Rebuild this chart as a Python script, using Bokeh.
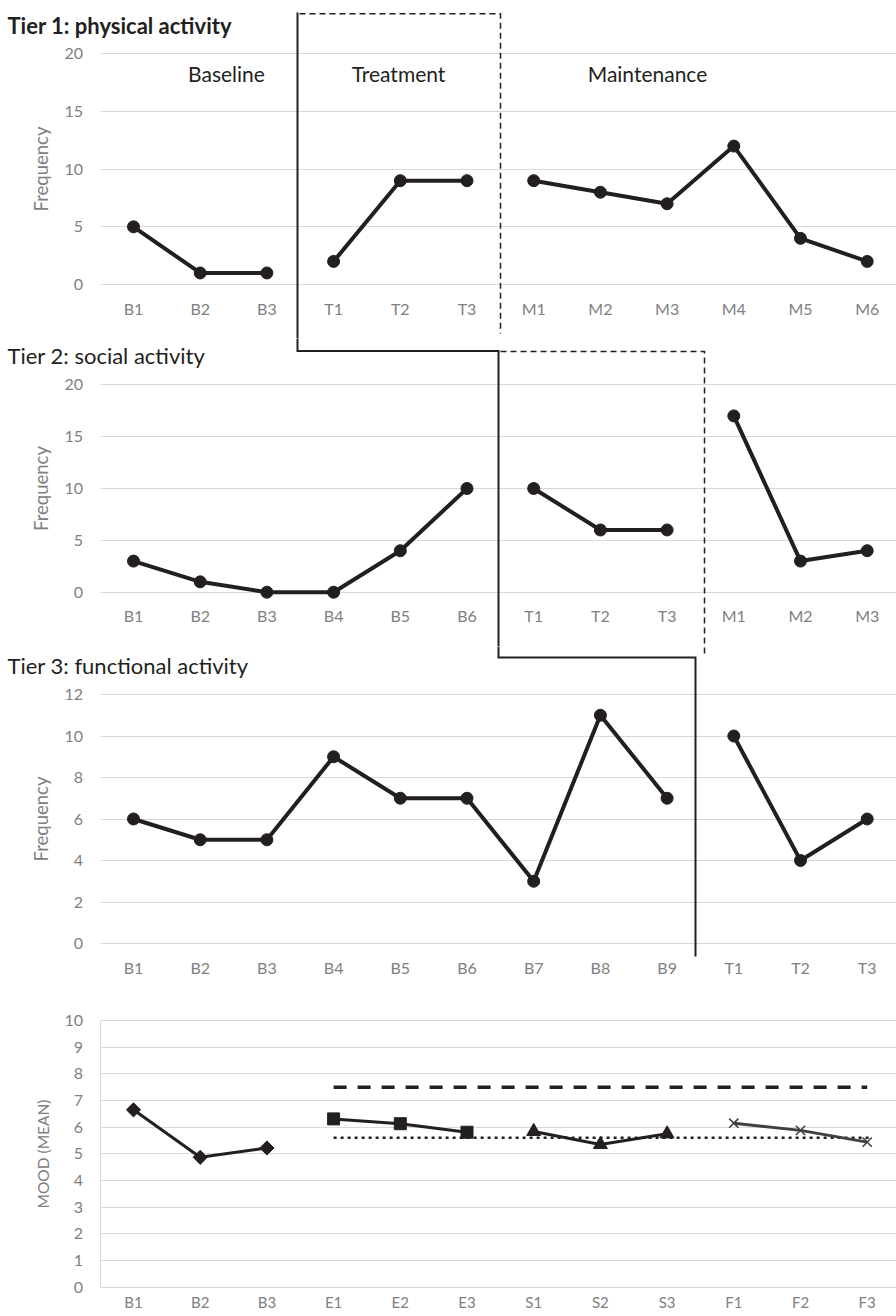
import math
from bokeh.plotting import figure
from bokeh.layouts import column
from bokeh.models import Range1d, FixedTicker, Label, Grid
from bokeh.embed import file_html
from bokeh.resources import INLINE

# ---------------- data ----------------
t1_labels = ["B1", "B2", "B3", "T1", "T2", "T3", "M1", "M2", "M3", "M4", "M5", "M6"]
t1_values = [5, 1, 1, 2, 9, 9, 9, 8, 7, 12, 4, 2]
t1_phases = [3, 3, 6]
t1_phase_names = ["Baseline", "Treatment", "Maintenance"]

t2_labels = ["B1", "B2", "B3", "B4", "B5", "B6", "T1", "T2", "T3", "M1", "M2", "M3"]
t2_values = [3, 1, 0, 0, 4, 10, 10, 6, 6, 17, 3, 4]
t2_phases = [6, 3, 3]

t3_labels = ["B1", "B2", "B3", "B4", "B5", "B6", "B7", "B8", "B9", "T1", "T2", "T3"]
t3_values = [6, 5, 5, 9, 7, 7, 3, 11, 7, 10, 4, 6]
t3_phases = [9, 3]

mood_labels = ["B1", "B2", "B3", "E1", "E2", "E3", "S1", "S2", "S3", "F1", "F2", "F3"]
mood_values = [6.65, 4.87, 5.22, 6.31, 6.13, 5.81, 5.84, 5.35, 5.75, 6.15, 5.88, 5.44]
mood_phases = [3, 3, 3, 3]
mood_dashed_level = 7.5
mood_dotted_level = 5.6

tier_titles = ["Tier 1: physical activity", "Tier 2: social activity", "Tier 3: functional activity"]

# ---------------- style / layout ----------------
FONT = "Lato"
GRID = "#d9d9d9"
TICK = "#808080"
INK = "#231f20"
W = 896
XPX0, XPX = 66.3, 66.7          # page x of slot 0, pixels per category slot


def xd(px):
    return (px - XPX0) / XPX


class Geo:
    """vertical placement of one panel on the page"""
    def __init__(self, top, height, px_zero, px_max, vmax):
        self.top, self.height = top, height
        self.px_zero = px_zero
        self.k = (px_zero - px_max) / vmax

    def y(self, py):
        return (self.px_zero - py) / self.k

    def yrange(self):
        return Range1d(self.y(self.top + self.height), self.y(self.top))


HAS_CROSS = "cross_bounds" in Grid.properties()


def make_fig(geo, y_end, y_ticks, labels, ylabel, axis_lines=False, label_size="18.5px"):
    p = figure(width=W, height=geo.height,
               x_range=Range1d(xd(0), xd(W)), y_range=geo.yrange(),
               output_backend="svg", toolbar_location=None,
               min_border_left=0, min_border_right=0,
               min_border_top=0, min_border_bottom=0)
    p.outline_line_color = None
    p.xgrid.visible = False
    p.ygrid.grid_line_color = GRID
    p.ygrid.grid_line_width = 1
    if HAS_CROSS:
        p.ygrid.cross_bounds = (0.5, xd(W))
    p.yaxis.ticker = FixedTicker(ticks=y_ticks)
    p.xaxis.ticker = FixedTicker(ticks=list(range(1, len(labels) + 1)))
    p.xaxis.major_label_overrides = {i + 1: lab for i, lab in enumerate(labels)}
    p.xaxis.fixed_location = 0
    p.yaxis.fixed_location = 0.5
    p.xaxis.bounds = (0.5, xd(W))
    p.yaxis.bounds = (0, y_end)
    for ax in (p.xaxis, p.yaxis):
        ax.axis_line_color = GRID if axis_lines else None
        ax.major_tick_line_color = None
        ax.minor_tick_line_color = None
        ax.major_tick_out = 0
        ax.major_tick_in = 0
        ax.minor_tick_out = 0
        ax.minor_tick_in = 0
        ax.major_label_text_font = FONT
        ax.major_label_text_font_size = "16px"
        ax.major_label_text_color = TICK
    p.yaxis.major_label_standoff = 17
    p.xaxis.major_label_standoff = 14
    p.yaxis.axis_label = ylabel
    p.yaxis.axis_label_text_font = FONT
    p.yaxis.axis_label_text_font_size = label_size
    p.yaxis.axis_label_text_font_style = "normal"
    p.yaxis.axis_label_text_color = TICK
    p.yaxis.axis_label_standoff = 10
    return p


def draw_series(p, values, phases, width=4, size=12):
    start = 0
    for n in phases:
        xs = list(range(start + 1, start + n + 1))
        ys = values[start:start + n]
        p.line(xs, ys, line_color=INK, line_width=width)
        p.scatter(xs, ys, marker="circle", size=size, color=INK)
        start += n


def add_title(p, geo, text, px, py, bold=False):
    p.add_layout(Label(x=xd(px), y=geo.y(py), text=text, text_font=FONT, text_font_size="22px",
                       text_font_style="bold" if bold else "normal", text_color=INK,
                       text_align="left", text_baseline="alphabetic"))


# phase-change lines, drawn on the page (pixel routes)
solid_route = [(297, 12), (297, 350.5), (498, 350.5), (498, 657), (695, 657), (695, 956)]
dashed_routes = [[(299, 13.3), (500, 13.3), (500, 333)],
                 [(500, 351), (704, 351), (704, 657)]]


def draw_routes(p, geo):
    p.line([xd(a) for a, _ in solid_route], [geo.y(b) for _, b in solid_route],
           line_color=INK, line_width=2, line_join="miter")
    for r in dashed_routes:
        p.line([xd(a) for a, _ in r], [geo.y(b) for _, b in r],
               line_color=INK, line_width=1.5, line_dash="6 4", line_join="miter")


# ---------------- Tier 1 ----------------
g1 = Geo(0, 338, 284.0, 53.3, 20)
p1 = make_fig(g1, 20, [0, 5, 10, 15, 20], t1_labels, "Frequency")
draw_series(p1, t1_values, t1_phases)
draw_routes(p1, g1)
add_title(p1, g1, tier_titles[0], 7, 25, bold=True)
for name, cx in zip(t1_phase_names, [226, 398, 647]):
    p1.add_layout(Label(x=xd(cx), y=g1.y(73), text=name, text_font=FONT, text_font_size="21px",
                        text_color=INK, text_align="center", text_baseline="middle"))

# ---------------- Tier 2 ----------------
g2 = Geo(338, 308, 591.7, 384.3, 20)
p2 = make_fig(g2, 20, [0, 5, 10, 15, 20], t2_labels, "Frequency")
draw_series(p2, t2_values, t2_phases)
draw_routes(p2, g2)
add_title(p2, g2, tier_titles[1], 7, 355)

# ---------------- Tier 3 ----------------
g3 = Geo(646, 347, 943.0, 694.0, 12)
p3 = make_fig(g3, 12, [0, 2, 4, 6, 8, 10, 12], t3_labels, "Frequency")
draw_series(p3, t3_values, t3_phases)
draw_routes(p3, g3)
add_title(p3, g3, tier_titles[2], 7, 665)

# ---------------- Mood ----------------
g4 = Geo(993, 323, 1286.7, 1020.0, 10)
p4 = make_fig(g4, 10, list(range(0, 11)), mood_labels, "MOOD (MEAN)", axis_lines=True,
              label_size="15.5px")
p4.xaxis.major_label_standoff = 6
p4.xaxis.major_label_text_font_size = "15px"
first_treat = mood_phases[0] + 1
last = len(mood_labels)
p4.line([first_treat, last], [mood_dashed_level, mood_dashed_level],
        line_color=INK, line_width=3.5, line_dash="13 11")
p4.line([first_treat, last + 0.05], [mood_dotted_level, mood_dotted_level],
        line_color=INK, line_width=2.5, line_dash="3 4")

marker_styles = [
    dict(marker="square", angle=math.pi / 4, size=10, color=INK, line_color=INK),
    dict(marker="square", angle=0, size=12, color=INK, line_color=INK),
    dict(marker="triangle", angle=0, size=14, color=INK, line_color=INK),
    dict(marker="x", angle=0, size=13, color="#404040", line_color="#404040", line_width=1.6),
]
line_colors = [INK, INK, INK, "#404040"]
start = 0
for n, ms, lc in zip(mood_phases, marker_styles, line_colors):
    xs = list(range(start + 1, start + n + 1))
    ys = mood_values[start:start + n]
    p4.line(xs, ys, line_color=lc, line_width=3)
    p4.scatter(xs, ys, **ms)
    start += n

layout = column(p1, p2, p3, p4, spacing=0)
with open("out.html", "w") as f:
    f.write(file_html(layout, INLINE))
